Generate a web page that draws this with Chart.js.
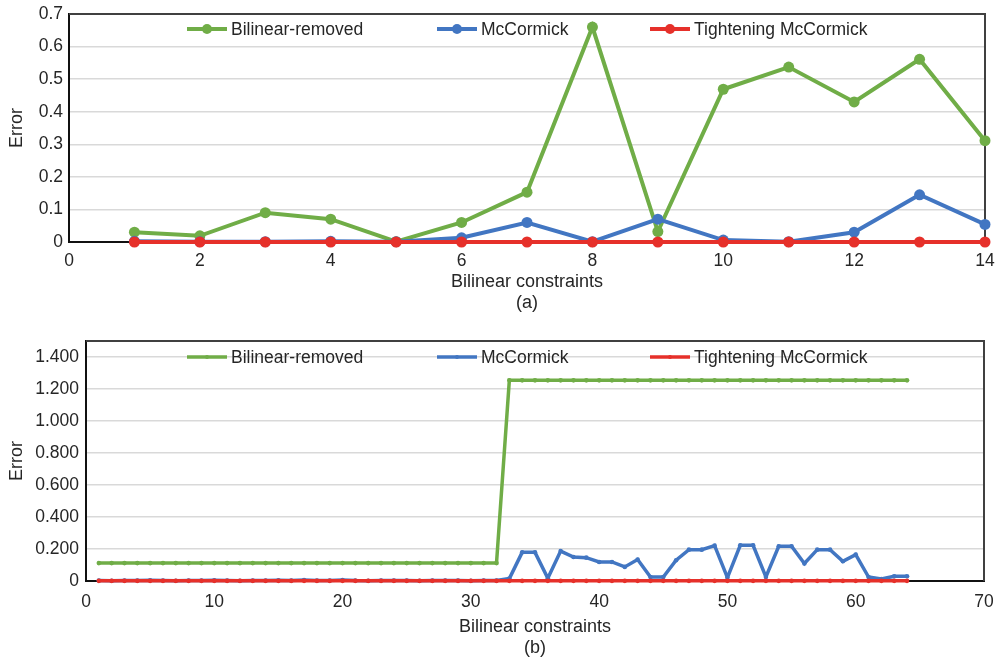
<!DOCTYPE html>
<html>
<head>
<meta charset="utf-8">
<script src="https://cdn.jsdelivr.net/npm/chart.js@4.4.1/dist/chart.umd.min.js"></script>
<style>
  html, body { margin: 0; padding: 0; background: #fff; }
  #wrap { position: relative; width: 995px; height: 665px; }
  .box { position: absolute; left: 0; width: 995px; }
  #top-box { top: 0; height: 325px; }
  #bottom-box { top: 325px; height: 340px; }
</style>
</head>
<body>
<div id="wrap">
  <div class="box" id="top-box"><canvas id="chart-a"></canvas></div>
  <div class="box" id="bottom-box"><canvas id="chart-b"></canvas></div>
</div>
<script>
const seriesNames = ['Bilinear-removed', 'McCormick', 'Tightening McCormick'];
const seriesColors = ['#70ad47', '#4276c2', '#e6302a'];

// (a)
const constraintsA = [1, 2, 3, 4, 5, 6, 7, 8, 9, 10, 11, 12, 13, 14];
const bilinearRemovedA = [0.03, 0.019, 0.09, 0.07, 0.001, 0.06, 0.153, 0.66, 0.032, 0.469, 0.537, 0.43, 0.561, 0.311];
const mcCormickA = [0.002, 0.001, 0.001, 0.002, 0.001, 0.013, 0.06, 0.001, 0.07, 0.006, 0.001, 0.03, 0.145, 0.054];
const tighteningA = [0, 0, 0, 0, 0, 0, 0, 0, 0, 0, 0, 0, 0, 0];
const xTicksA = [0, 2, 4, 6, 8, 10, 12, 14];
const yTicksA = [0, 0.1, 0.2, 0.3, 0.4, 0.5, 0.6, 0.7];

// (b)
const constraintsB = Array.from({ length: 64 }, (_, i) => i + 1);
const bilinearRemovedB = [
    0.112, 0.112, 0.112, 0.112, 0.112, 0.112, 0.112, 0.112, 0.112, 0.112, 0.112, 0.112, 0.112, 0.112, 0.112, 0.112,
    0.112, 0.112, 0.112, 0.112, 0.112, 0.112, 0.112, 0.112, 0.112, 0.112, 0.112, 0.112, 0.112, 0.112, 0.112, 0.112,
    1.254, 1.254, 1.254, 1.254, 1.254, 1.254, 1.254, 1.254, 1.254, 1.254, 1.254, 1.254, 1.254, 1.254, 1.254, 1.254,
    1.254, 1.254, 1.254, 1.254, 1.254, 1.254, 1.254, 1.254, 1.254, 1.254, 1.254, 1.254, 1.254, 1.254, 1.254, 1.254
];
const mcCormickB = [
    0.003, 0.002, 0.003, 0.003, 0.004, 0.003, 0.002, 0.003, 0.003, 0.004, 0.003, 0.002, 0.003, 0.003, 0.004, 0.003,
    0.006, 0.003, 0.003, 0.006, 0.003, 0.002, 0.003, 0.003, 0.003, 0.002, 0.003, 0.003, 0.003, 0.002, 0.003, 0.003,
    0.015, 0.179, 0.179, 0.017, 0.187, 0.15, 0.146, 0.119, 0.119, 0.088, 0.134, 0.025, 0.025, 0.13, 0.196, 0.196,
    0.221, 0.021, 0.223, 0.223, 0.025, 0.217, 0.217, 0.109, 0.196, 0.196, 0.123, 0.165, 0.025, 0.012, 0.03, 0.03
];
const tighteningB = [
    0.001, 0.001, 0.001, 0.001, 0.001, 0.001, 0.001, 0.001, 0.001, 0.001, 0.001, 0.001, 0.001, 0.001, 0.001, 0.001,
    0.001, 0.001, 0.001, 0.001, 0.001, 0.001, 0.001, 0.001, 0.001, 0.001, 0.001, 0.001, 0.001, 0.001, 0.001, 0.001,
    0.001, 0.001, 0.001, 0.001, 0.001, 0.001, 0.001, 0.001, 0.001, 0.001, 0.001, 0.001, 0.001, 0.001, 0.001, 0.001,
    0.001, 0.001, 0.001, 0.001, 0.001, 0.001, 0.001, 0.001, 0.001, 0.001, 0.001, 0.001, 0.001, 0.001, 0.001, 0.001
];
const xTicksB = [0, 10, 20, 30, 40, 50, 60, 70];
const yTicksB = [0, 0.2, 0.4, 0.6, 0.8, 1.0, 1.2, 1.4];

const FONT = "'Liberation Sans', Arial, sans-serif";
const TEXT = '#262626';

Chart.defaults.font.family = FONT;
Chart.defaults.color = TEXT;
Chart.defaults.animation = false;

// top and right edges of the plot box
const framePlugin = {
    id: 'frame',
    beforeDatasetsDraw(chart) {
        const { ctx, chartArea: a } = chart;
        ctx.save();
        ctx.strokeStyle = '#404040';
        ctx.lineWidth = 2;
        ctx.beginPath();
        ctx.moveTo(a.left, a.top);
        ctx.lineTo(a.right, a.top);
        ctx.lineTo(a.right, a.bottom);
        ctx.stroke();
        ctx.restore();
    }
};

// legend drawn inside the plot, like the original
const inlineLegend = {
    id: 'inlineLegend',
    afterDatasetsDraw(chart, args, opts) {
        const { ctx } = chart;
        ctx.save();
        ctx.font = `${opts.fontSize}px ${FONT}`;
        ctx.textBaseline = 'middle';
        chart.data.datasets.forEach((ds, i) => {
            const x = opts.x[i];
            const y = opts.y;
            ctx.strokeStyle = ds.borderColor;
            ctx.lineWidth = ds.borderWidth;
            ctx.beginPath();
            ctx.moveTo(x, y);
            ctx.lineTo(x + opts.lineLen, y);
            ctx.stroke();
            ctx.fillStyle = ds.borderColor;
            ctx.beginPath();
            ctx.arc(x + opts.lineLen / 2, y, opts.radius, 0, Math.PI * 2);
            ctx.fill();
            ctx.fillStyle = TEXT;
            ctx.fillText(ds.label, x + opts.lineLen + 4, y + 1);
        });
        ctx.restore();
    }
};

function buildDatasets(xs, seriesList, lineWidth, radius) {
    return seriesList.map((values, i) => ({
        label: seriesNames[i],
        data: values.map((v, j) => ({ x: xs[j], y: v })),
        borderColor: seriesColors[i],
        backgroundColor: seriesColors[i],
        borderWidth: lineWidth,
        pointRadius: radius,
        pointBorderWidth: 0,
        tension: 0,
        clip: false,
        order: 2 - i
    }));
}

function renderChart(canvasId, cfg) {
    const ctx = document.getElementById(canvasId).getContext('2d');
    new Chart(ctx, {
        type: 'line',
        data: { datasets: cfg.datasets },
        options: {
            responsive: true,
            maintainAspectRatio: false,
            layout: { padding: cfg.padding },
            scales: {
                x: {
                    type: 'linear',
                    min: cfg.xTicks[0],
                    max: cfg.xTicks[cfg.xTicks.length - 1],
                    afterBuildTicks: (axis) => { axis.ticks = cfg.xTicks.map(v => ({ value: v })); },
                    afterFit: (axis) => {
                        axis.height = cfg.xHeight;
                        axis.paddingLeft = 0;
                        axis.paddingRight = 0;
                    },
                    grid: { display: false, drawTicks: false },
                    border: { display: true, color: '#111', width: 2 },
                    ticks: {
                        padding: cfg.xTickPad,
                        maxRotation: 0,
                        font: { size: 17.5 },
                        color: TEXT
                    },
                    title: {
                        display: true,
                        text: ['Bilinear constraints', cfg.caption],
                        font: { size: 18, lineHeight: 1.17 },
                        color: TEXT,
                        padding: { top: 0, bottom: cfg.titlePadBottom }
                    }
                },
                y: {
                    min: 0,
                    max: cfg.yMax,
                    afterBuildTicks: (axis) => { axis.ticks = cfg.yTicks.map(v => ({ value: v })); },
                    afterFit: (axis) => {
                        axis.width = cfg.yWidth;
                        axis.paddingTop = 0;
                        axis.paddingBottom = 0;
                    },
                    grid: { color: '#d9d9d9', lineWidth: 1.5, drawTicks: false },
                    border: { display: true, color: '#111', width: 2 },
                    ticks: {
                        padding: cfg.yTickPad,
                        font: { size: 17.5 },
                        color: TEXT,
                        callback: (v) => v === 0 ? '0' : v.toFixed(cfg.decimals)
                    },
                    title: {
                        display: true,
                        text: 'Error',
                        font: { size: 18, lineHeight: 1.2 },
                        color: TEXT,
                        padding: { top: 6, bottom: 0 }
                    }
                }
            },
            plugins: {
                legend: { display: false },
                tooltip: { enabled: false },
                inlineLegend: cfg.legend
            }
        },
        plugins: [framePlugin, inlineLegend]
    });
}

renderChart('chart-a', {
    datasets: buildDatasets(constraintsA, [bilinearRemovedA, mcCormickA, tighteningA], 4, 5.5),
    padding: { top: 14, right: 10, bottom: 0, left: 0 },
    xTicks: xTicksA,
    yTicks: yTicksA,
    yMax: 0.7,
    decimals: 1,
    xHeight: 83,
    yWidth: 69,
    xTickPad: 9,
    yTickPad: 6,
    titlePadBottom: 11,
    caption: '(a)',
    legend: { x: [187, 437, 650], y: 29, lineLen: 40, radius: 5, fontSize: 17.5 }
});

renderChart('chart-b', {
    datasets: buildDatasets(constraintsB, [bilinearRemovedB, mcCormickB, tighteningB], 3.5, 2.3),
    padding: { top: 16, right: 11, bottom: 0, left: 0 },
    xTicks: xTicksB,
    yTicks: yTicksB,
    yMax: 1.5,
    decimals: 3,
    xHeight: 84,
    yWidth: 86,
    xTickPad: 11,
    yTickPad: 7,
    titlePadBottom: 6,
    caption: '(b)',
    legend: { x: [187, 437, 650], y: 32, lineLen: 40, radius: 2, fontSize: 17.5 }
});
</script>
</body>
</html>
